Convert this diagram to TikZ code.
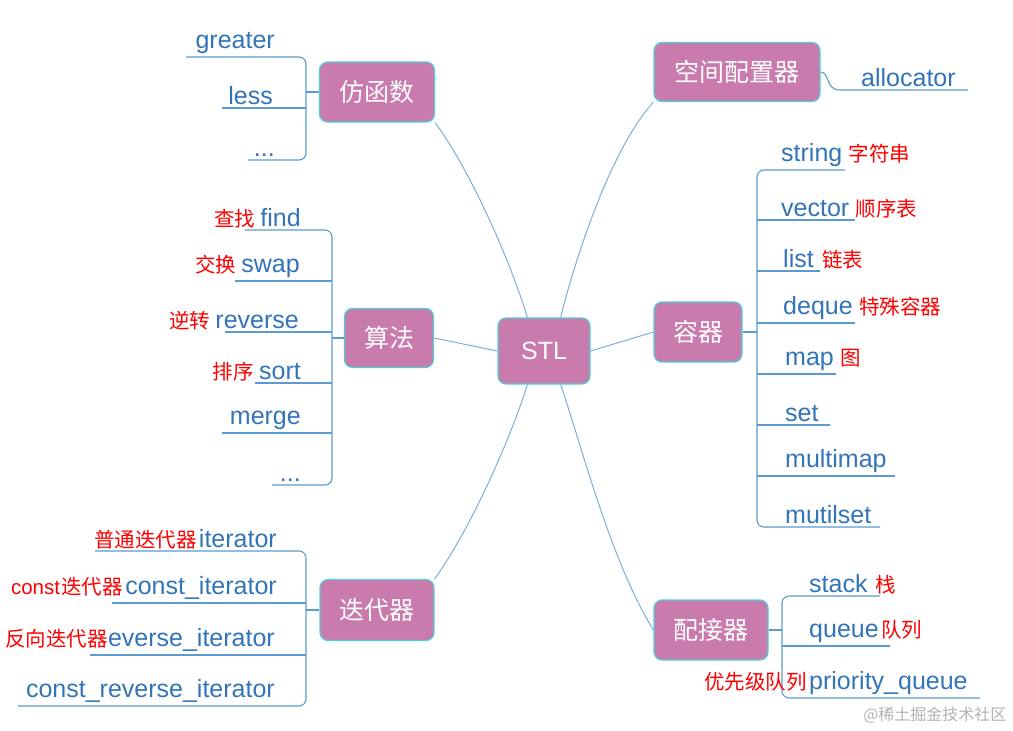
\documentclass[tikz,border=0pt]{standalone}
\usepackage{fontspec}
\setmainfont{Liberation Sans}
\newfontfamily\cjk{Noto Sans CJK SC}
\begin{document}
\begin{tikzpicture}[x=1pt,y=-1pt,
  hub/.style={draw=teal!50!cyan!70, line width=1.2pt, fill=mypink, rounded corners=8pt, text=white, font=\cjk\fontsize{25}{27}\selectfont, inner sep=0pt},
  leaf/.style={text=leafblue, font=\fontsize{25}{27}\selectfont, inner sep=1pt},
  note/.style={text=red, font=\cjk\fontsize{20.5}{22}\selectfont, inner sep=1pt},
  br/.style={draw=lineblue, line width=1.1pt, rounded corners=7pt},
  ln/.style={draw=lineblue, line width=1.1pt},
  cn/.style={draw=lineblue!80, line width=1pt}]
\definecolor{mypink}{HTML}{C97BAE}
\definecolor{leafblue}{HTML}{3274B8}
\definecolor{lineblue}{HTML}{5B9BD0}
\useasboundingbox (0,0) rectangle (1013,731);
% hubs
\node[hub, minimum width=92pt, minimum height=66pt, font=\fontsize{25}{27}\selectfont] (stl) at (544,351) {STL};
\node[hub, minimum width=115pt, minimum height=60pt] (fh) at (377,92) {仿函数};
\node[hub, minimum width=89pt, minimum height=59pt] (sf) at (389,338) {算法};
\node[hub, minimum width=114pt, minimum height=61pt] (dd) at (377,610) {迭代器};
\node[hub, minimum width=166pt, minimum height=59pt] (kj) at (737,72) {空间配置器};
\node[hub, minimum width=88pt, minimum height=60pt] (rq) at (698,332) {容器};
\node[hub, minimum width=114pt, minimum height=60pt] (pj) at (711,630) {配接器};
% connectors
\draw[cn] (fh.south east) .. controls (470,170) and (510,260) .. ([xshift=30pt]stl.north west);
\draw[cn] (kj.south west) .. controls (610,150) and (575,260) .. ([xshift=-30pt]stl.north east);
\draw[cn] (sf.east) -- (stl.west);
\draw[cn] (rq.west) -- (stl.east);
\draw[cn] (dd.north east) .. controls (470,530) and (510,440) .. ([xshift=30pt]stl.south west);
\draw[cn] (pj.west) .. controls (610,560) and (580,440) .. ([xshift=-30pt]stl.south east);
% 仿函数
\coordinate (fhb) at (306,92);
\draw[ln] (fh.west) -- (fhb);
\draw[br] (186,57) -- (306,57) -- (306,160) -- (248,160);
\draw[ln] (222,108) -- (306,108);
\node[leaf, anchor=south east] (g1) at (276,55) {greater};
\node[leaf, anchor=south east] (g2) at (274,106) {less};
\node[leaf, anchor=south east] (g3) at (276,158) {...};
% 算法
\coordinate (sfb) at (332,338);
\draw[ln] (sf.west) -- (sfb);
\draw[br] (245,230) -- (332,230) -- (332,485) -- (272,485);
\foreach \y/\x in {281/235,332/225,383/255,433/222} \draw[ln] (\x,\y) -- (332,\y);
\node[leaf, anchor=south east] (a1) at (302,228) {find};
\node[leaf, anchor=south east] (a2) at (301,279) {swap};
\node[leaf, anchor=south east] (a3) at (300,330) {reverse};
\node[leaf, anchor=south east] (a4) at (302,381) {sort};
\node[leaf, anchor=south east] (a5) at (302,431) {merge};
\node[leaf, anchor=south east] (a6) at (302,483) {...};
\node[note, anchor=base east] at ([xshift=-3pt]a1.base west) {查找};
\node[note, anchor=base east] at ([xshift=-3pt]a2.base west) {交换};
\node[note, anchor=base east] at ([xshift=-3pt]a3.base west) {逆转};
\node[note, anchor=base east] at ([xshift=-3pt]a4.base west) {排序};
% 迭代器
\coordinate (ddb) at (306,610);
\draw[ln] (dd.west) -- (ddb);
\draw[br] (95,551) -- (306,551) -- (306,706) -- (18,706);
\foreach \y/\x in {603/112,655/90} \draw[ln] (\x,\y) -- (306,\y);
\node[leaf, anchor=south east] (i1) at (278,549) {iterator};
\node[leaf, anchor=south east] (i2) at (278,601) {const\_iterator};
\node[leaf, anchor=south east] (i3) at (276,653) {reverse\_iterator};
\node[leaf, anchor=south east] (i4) at (276,704) {const\_reverse\_iterator};
\node[note, anchor=base east] at (i1.base west) {普通迭代器};
\node[note, anchor=base east] (c2) at (i2.base west) {迭代器};
\node[note, anchor=base east, font=\fontsize{20.5}{22}\selectfont, inner sep=0pt] (c1) at (c2.base west) {const};
\node[note, anchor=base west, fill=white] at (4,646) {反向迭代器};
% 空间配置器
\draw[ln] (kj.east) .. controls (830,72) and (825,90) .. (840,90) -- (968,90);
\node[leaf, anchor=south west] (al) at (860,88) {allocator};
% 容器
\coordinate (rqb) at (757,332);
\draw[ln] (rq.east) -- (rqb);
\draw[br] (845,170) -- (757,170) -- (757,527) -- (880,527);
\foreach \y/\x in {220/855,271/820,323/855,374/836,425/830,476/895} \draw[ln] (757,\y) -- (\x,\y);
\node[leaf, anchor=south west] (r1) at (780,168) {string};
\node[leaf, anchor=south west] (r2) at (780,218) {vector};
\node[leaf, anchor=south west] (r3) at (782,269) {list};
\node[leaf, anchor=south west] (r4) at (782,321) {deque};
\node[leaf, anchor=south west] (r5) at (784,372) {map};
\node[leaf, anchor=south west] (r6) at (784,423) {set};
\node[leaf, anchor=south west] (r7) at (784,474) {multimap};
\node[leaf, anchor=south west] (r8) at (784,525) {mutilset};
\node[note, anchor=base west] at ([xshift=4pt]r1.base east) {字符串};
\node[note, anchor=base west] at ([xshift=4pt]r2.base east) {顺序表};
\node[note, anchor=base west] at ([xshift=6pt]r3.base east) {链表};
\node[note, anchor=base west] at ([xshift=4pt]r4.base east) {特殊容器};
\node[note, anchor=base west] at ([xshift=4pt]r5.base east) {图};
% 配接器
\coordinate (pjb) at (782,630);
\draw[ln] (pj.east) -- (pjb);
\draw[br] (880,596) -- (782,596) -- (782,698) -- (980,698);
\draw[ln] (782,646) -- (890,646);
\node[leaf, anchor=south west] (p1) at (808,594) {stack};
\node[leaf, anchor=south west] (p2) at (808,644) {queue};
\node[leaf, anchor=south west] (p3) at (808,696) {priority\_queue};
\node[note, anchor=base west] at ([xshift=6pt]p1.base east) {栈};
\node[note, anchor=base west] at (p2.base east) {队列};
\node[note, anchor=base east] at (p3.base west) {优先级队列};
\node[text=gray!60, font=\cjk\fontsize{16}{18}\selectfont, anchor=east] at (1010,715) {@稀土掘金技术社区};
\end{tikzpicture}
\end{document}
